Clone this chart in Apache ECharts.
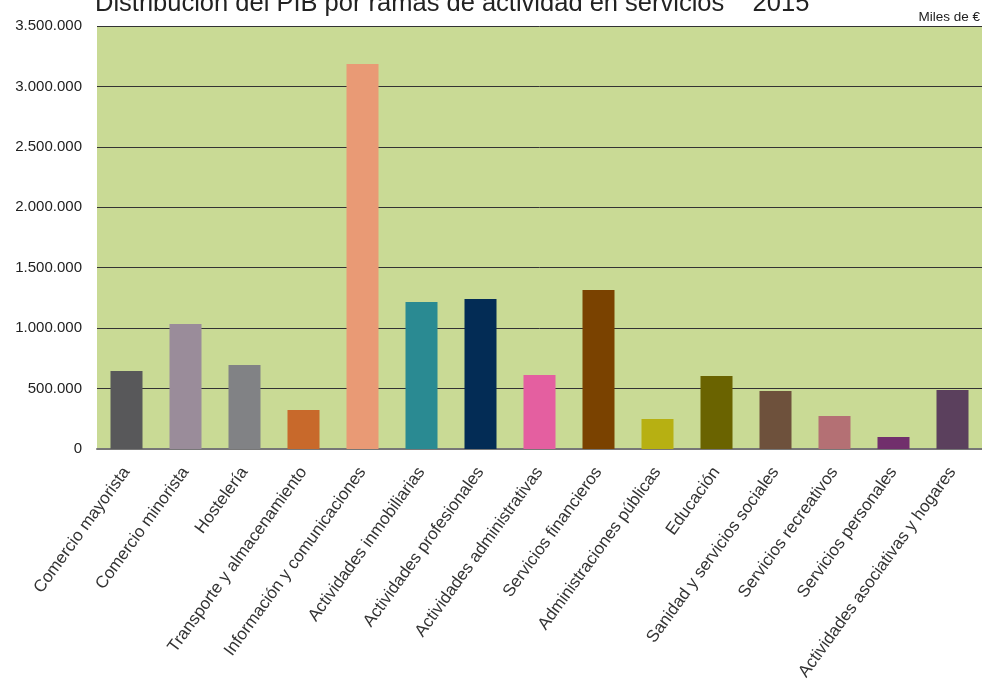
<!DOCTYPE html>
<html>
<head>
<meta charset="utf-8">
<script src="https://cdn.jsdelivr.net/npm/echarts@6/dist/echarts.min.js"></script>
<style>
html,body{margin:0;padding:0;background:#fff;}
#c{width:982px;height:688px;}
</style>
</head>
<body>
<div id="c"></div>
<script>
const categories = [
  "Comercio mayorista","Comercio minorista","Hostelería","Transporte y almacenamiento",
  "Información y comunicaciones","Actividades inmobiliarias","Actividades profesionales",
  "Actividades administrativas","Servicios financieros","Administraciones públicas",
  "Educación","Sanidad y servicios sociales","Servicios recreativos","Servicios personales",
  "Actividades asociativas y hogares"
];
const values = [645000,1034000,695000,323000,3186000,1216000,1241000,612000,1316000,248000,604000,480000,273000,99000,488000];
const barColors = ["#58585a","#9a8c9a","#818285","#c8692b","#e99a75","#2a8a92","#032c55","#e45fa0","#7a4200","#b7b012","#6a6300","#6e513c","#b47074","#712f6c","#5b405d"];
const titleText = "Distribución del PIB por ramas de actividad en servicios    2015";
const unitText = "Miles de €";

const fmt = v => String(v).replace(/\B(?=(\d{3})+(?!\d))/g, ".");

const chart = echarts.init(document.getElementById('c'));
chart.setOption({
  animation: false,
  textStyle: {fontFamily: "Liberation Sans, Arial, sans-serif"},
  graphic: [
    {type:'text', left: 95, top: -9, style:{text: titleText, font: "25.5px 'Liberation Sans', Arial, sans-serif", fill:"#222"}},
    {type:'text', right: 2, top: 10, style:{text: unitText, font: "13.5px 'Liberation Sans', Arial, sans-serif", fill:"#222"}}
  ],
  grid: {left: 97, right: 0, top: 26, bottom: 239, backgroundColor: "#c9da95", show: true, borderWidth: 0},
  xAxis: {
    type: 'category', data: categories,
    axisLine: {show: true, lineStyle: {color: "#777", width: 2}},
    axisTick: {show: false},
    axisLabel: {interval: 0, rotate: 54, fontSize: 17, color: "#333", margin: 20}
  },
  yAxis: {
    type: 'value', min: 0, max: 3500000, interval: 500000,
    axisLine: {show: false}, axisTick: {show: false},
    splitLine: {lineStyle: {color: "#333", width: 1}},
    axisLabel: {formatter: fmt, fontSize: 15, color: "#222", margin: 15}
  },
  series: [{
    type: 'bar', barWidth: 32,
    data: values.map((v,i)=>({value: v, itemStyle: {color: barColors[i]}}))
  }]
});
</script>
</body>
</html>
